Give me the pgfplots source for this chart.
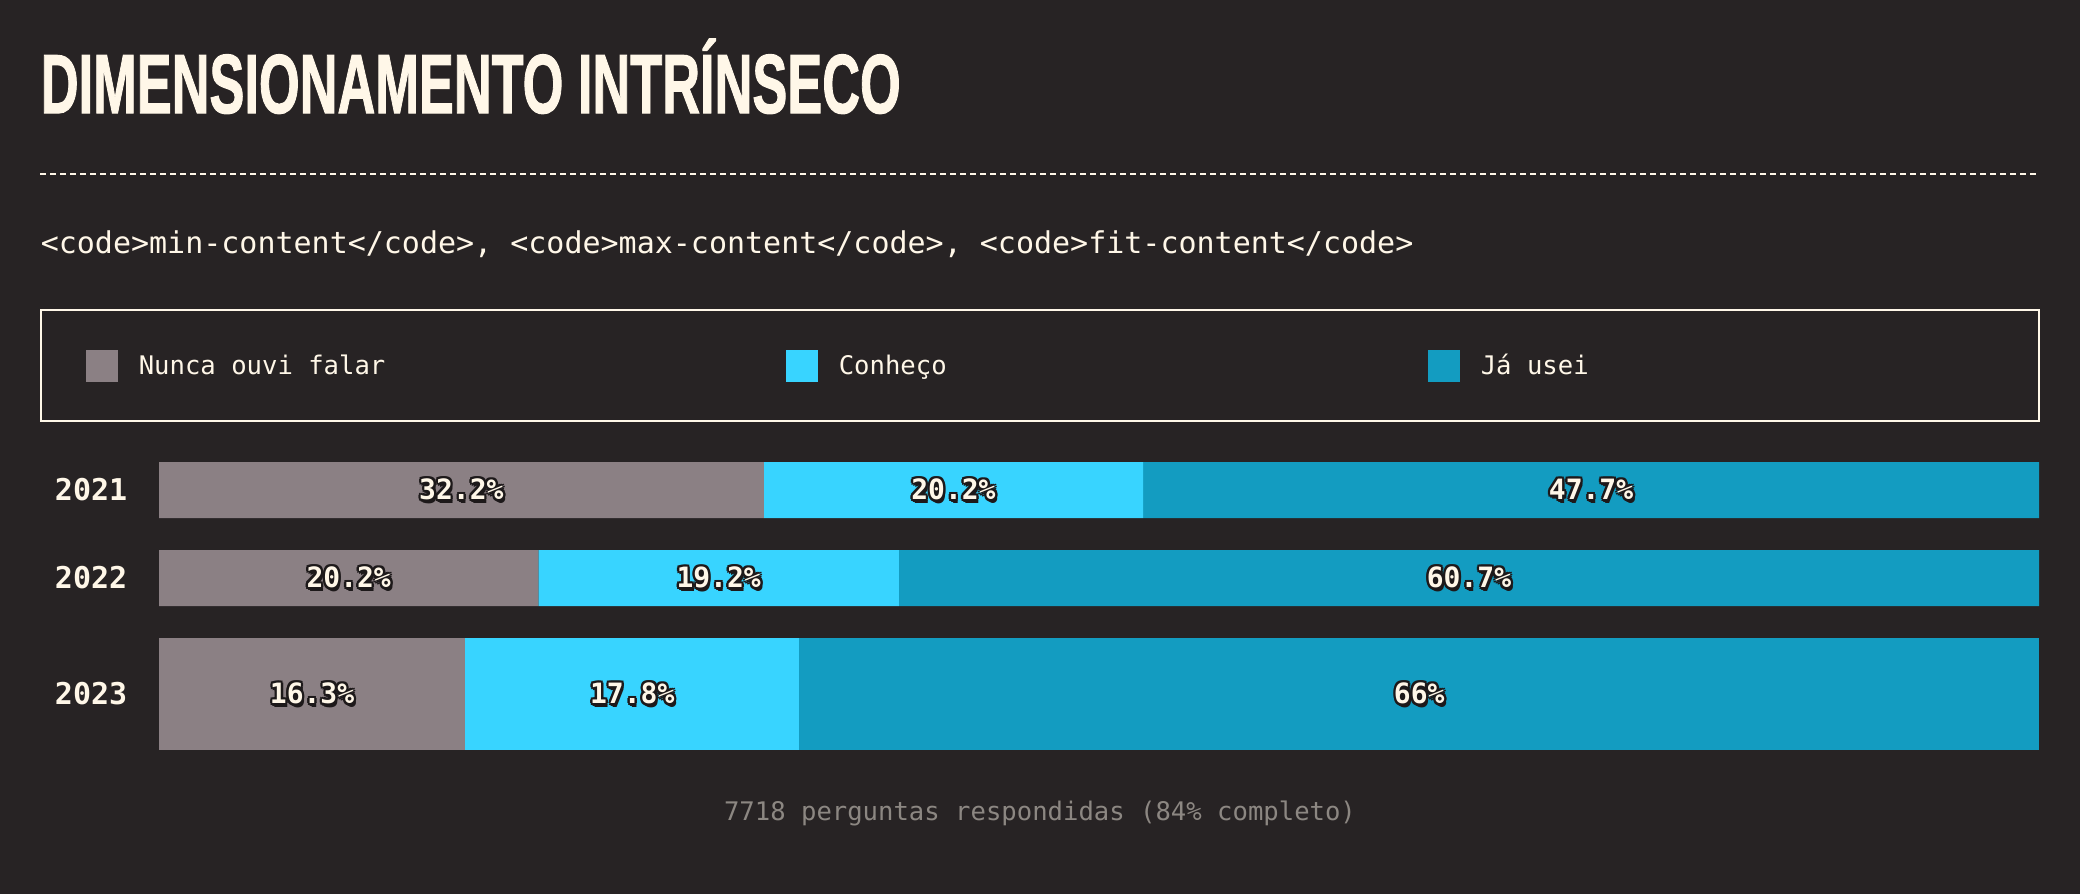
\documentclass[border=0pt]{standalone}
\usepackage{pgfplots}
\pgfplotsset{compat=1.18}
\usepackage{fontspec}
\usepackage{graphicx}
\setmainfont{DejaVu Sans Mono}
\setmonofont{DejaVu Sans Mono}
\newfontfamily\titlefont{Liberation Sans}[BoldFeatures={FakeBold=1.5}]
\definecolor{bg}{HTML}{272324}
\definecolor{cream}{HTML}{FFF7E8}
\definecolor{dk}{HTML}{1D191A}
\definecolor{cgray}{HTML}{8B8084}
\definecolor{ccyan}{HTML}{38D4FF}
\definecolor{cteal}{HTML}{139CC1}
\definecolor{foot}{HTML}{8C8782}
\newcommand{\osh}[3]{\makebox[0pt][l]{\kern#1\raisebox{#2}{\textcolor{dk}{#3}}}}
\newcommand{\outl}[1]{\osh{0.6pt}{0pt}{#1}\osh{-0.6pt}{0pt}{#1}\osh{0pt}{0.6pt}{#1}\osh{0pt}{-0.6pt}{#1}\osh{0.45pt}{0.45pt}{#1}\osh{-0.45pt}{0.45pt}{#1}\osh{0.45pt}{-0.45pt}{#1}\osh{-0.45pt}{-0.45pt}{#1}\osh{0.5pt}{-0.85pt}{#1}\textcolor{cream}{#1}}
\pgfplotsset{rowaxis/.style={
  at={(39.75pt,36pt)}, anchor=south west,
  width=470pt, height=72pt, scale only axis,
  xmin=0, xmax=100.1, ymin=-750, ymax=-462,
  clip=false}}
\begin{document}
\begin{tikzpicture}
\fill[bg] (0,0) rectangle (520pt,223.5pt);
\node[anchor=base west, inner sep=0pt, text=cream] at (10pt,195.25pt)
  {\resizebox{215pt}{\height}{\fontsize{20.95pt}{24pt}\titlefont\bfseries DIMENSIONAMENTO INTRÍNSECO}};
\draw[cream, line width=0.5pt, dash pattern=on 1.5pt off 1pt] (10pt,180pt) -- (509.75pt,180pt);
\node[anchor=base west, inner sep=0pt, text=cream, font=\fontsize{7.5pt}{9pt}\selectfont] at (10pt,160.25pt)
  {<code>min-content</code>, <code>max-content</code>, <code>fit-content</code>};

\begin{axis}[rowaxis,
  xbar stacked, bar width=56, hide axis,
  legend columns=3,
  legend cell align=left,
  legend image code/.code={\fill[#1] (0pt,-4pt) rectangle (8pt,4pt);},
  legend style={at={(-0.0633,1.53125)}, anchor=north west, draw=cream, line width=0.5pt, fill=none, text=cream,
     font=\fontsize{6.4pt}{7.5pt}\selectfont, inner xsep=11.2pt, inner ysep=9.875pt,
     nodes={inner sep=0pt, text height=4.7pt, text depth=0pt},
     /tikz/every odd column/.append style={column sep=5.25pt},
     /tikz/every even column/.append style={column sep=0pt}},
]
\addplot[fill=cgray, draw=none] coordinates {(32.2,-490) (20.2,-578)};
\addplot[fill=ccyan, draw=none] coordinates {(20.2,-490) (19.2,-578)};
\addplot[fill=cteal, draw=none] coordinates {(47.7,-490) (60.7,-578)};
\legend{\makebox[161.75pt][l]{Nunca ouvi falar}, \makebox[147.25pt][l]{Conheço}, \makebox[128.35pt][l]{Já usei}}
\end{axis}

\begin{axis}[rowaxis, xbar stacked, bar width=112, hide axis]
\addplot[fill=cgray, draw=none] coordinates {(16.3,-694)};
\addplot[fill=ccyan, draw=none] coordinates {(17.8,-694)};
\addplot[fill=cteal, draw=none] coordinates {(66,-694)};
\end{axis}

\begin{axis}[rowaxis,
  axis line style={draw=none}, major tick length=0pt,
  xtick=\empty, ytick={-490,-578,-694}, yticklabels={2021,2022,2023},
  yticklabel style={text=cream, font=\fontsize{7.5pt}{9pt}\selectfont\bfseries, inner sep=0pt, xshift=-7.75pt},
]
\addplot[draw=none, mark=none, point meta=explicit symbolic,
  nodes near coords={\outl{\pgfplotspointmeta}},
  nodes near coords style={anchor=center, font=\fontsize{7pt}{8pt}\selectfont\bfseries, inner sep=0pt}]
  coordinates {(16.1,-490) [32.2\%] (42.3,-490) [20.2\%] (76.25,-490) [47.7\%]
               (10.1,-578) [20.2\%] (29.8,-578) [19.2\%] (69.75,-578) [60.7\%]
               (8.15,-694) [16.3\%] (25.2,-694) [17.8\%] (67.1,-694) [66\%]};
\end{axis}

\node[anchor=base, inner sep=0pt, text=foot, font=\fontsize{6.4pt}{7.5pt}\selectfont] at (260pt,18.5pt)
  {7718 perguntas respondidas (84\% completo)};
\end{tikzpicture}
\end{document}
